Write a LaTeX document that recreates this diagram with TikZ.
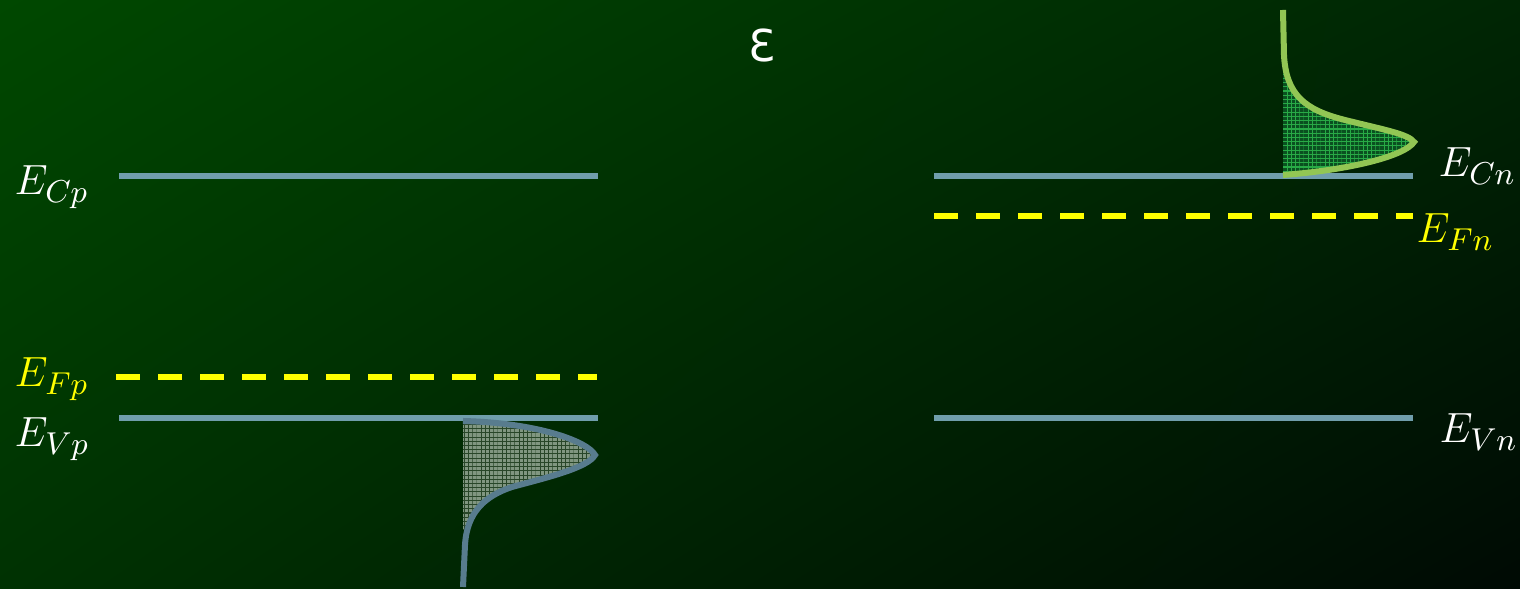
\documentclass[tikz,border=0pt]{standalone}
\usepackage{fontspec}
\newfontfamily\epsfont{DejaVu Sans}
\usetikzlibrary{patterns,shadings}
\pgfdeclarepatternformonly{finegrid}{\pgfpoint{-0.1pt}{-0.1pt}}{\pgfpoint{1.3pt}{1.3pt}}{\pgfpoint{1.2pt}{1.2pt}}{%
  \pgfsetlinewidth{0.3pt}%
  \pgfpathmoveto{\pgfpoint{0pt}{0pt}}\pgfpathlineto{\pgfpoint{1.2pt}{0pt}}%
  \pgfpathmoveto{\pgfpoint{0pt}{0pt}}\pgfpathlineto{\pgfpoint{0pt}{1.2pt}}%
  \pgfusepath{stroke}}
\definecolor{bgA}{RGB}{0,72,0}
\definecolor{bgB}{RGB}{0,38,4}
\definecolor{bgC}{RGB}{0,50,2}
\definecolor{bgD}{RGB}{0,10,4}
\definecolor{bandline}{RGB}{112,158,172}
\definecolor{holecurve}{RGB}{88,124,142}
\definecolor{holefill}{RGB}{128,150,128}
\definecolor{holegrid}{RGB}{40,70,40}
\definecolor{eleccurve}{RGB}{146,198,84}
\definecolor{elecfill}{RGB}{10,80,32}
\definecolor{elecgrid}{RGB}{40,170,70}
\definecolor{fermi}{RGB}{255,255,0}
\tikzset{
  band/.style={draw=bandline, line width=6*0.2845pt},
  fermiline/.style={draw=fermi, line width=6*0.2845pt, dash pattern=on 24*0.2845pt off 18*0.2845pt},
  lbl/.style={anchor=base west, inner sep=0pt, text=white, font=\fontsize{12.8}{15}\selectfont},
  flbl/.style={lbl, text=fermi},
}
\begin{document}
\begin{tikzpicture}[x=0.01cm, y=-0.01cm]
\useasboundingbox (0,0) rectangle (1520,589);
\shade[upper left=bgA, upper right=bgB, lower left=bgC, lower right=bgD] (0,0) rectangle (1520,589);

% band lines
\draw[band] (119,176) -- (598,176);
\draw[band] (934,176) -- (1413,176);
\draw[band] (119,418) -- (598,418);
\draw[band] (934,418) -- (1413,418);
\draw[fermiline] (934,216) -- (1413,216);
\draw[fermiline] (116,377) -- (597,377);

% hole distribution (valence band, p side)
\fill[holefill] (463,421) .. controls (540,423) and (588,442) .. (595,455)
  .. controls (588,468) and (545,478) .. (512,487)
  .. controls (485,496) and (470,510) .. (466,530) -- (463,530) -- cycle;
\fill[pattern=finegrid, pattern color=holegrid] (463,421) .. controls (540,423) and (588,442) .. (595,455)
  .. controls (588,468) and (545,478) .. (512,487)
  .. controls (485,496) and (470,510) .. (466,530) -- (463,530) -- cycle;
\draw[holecurve, line width=6*0.2845pt] (463,421) .. controls (540,423) and (588,442) .. (595,455)
  .. controls (588,468) and (545,478) .. (512,487)
  .. controls (485,496) and (467,512) .. (465,545) -- (463,587);

% electron distribution (conduction band, n side)
\fill[elecfill] (1283,60) .. controls (1286,95) and (1305,110) .. (1345,120)
  .. controls (1385,130) and (1408,134) .. (1414,142)
  .. controls (1405,156) and (1350,170) .. (1283,175) -- cycle;
\fill[pattern=finegrid, pattern color=elecgrid] (1283,60) .. controls (1286,95) and (1305,110) .. (1345,120)
  .. controls (1385,130) and (1408,134) .. (1414,142)
  .. controls (1405,156) and (1350,170) .. (1283,175) -- cycle;
\draw[eleccurve, line width=6*0.2845pt] (1283,10) -- (1284,55) .. controls (1286,95) and (1305,110) .. (1345,120)
  .. controls (1385,130) and (1408,134) .. (1414,142)
  .. controls (1405,156) and (1350,170) .. (1283,175);

% labels
\node[lbl] (ecp) at (14,195) {$E_{Cp}$};
\node[flbl] (efp) at (14,387) {$E_{Fp}$};
\node[lbl] (evp) at (14,447) {$E_{Vp}$};
\node[lbl] (ecn) at (1438,177) {$E_{Cn}$};
\node[flbl] (efn) at (1416,243) {$E_{Fn}$};
\node[lbl] (evn) at (1439,443) {$E_{Vn}$};
\node[anchor=base, inner sep=0pt, text=white, font=\epsfont\fontsize{12.5}{15}\selectfont] (eps) at (762,62) {Ɛ};
\end{tikzpicture}
\end{document}
